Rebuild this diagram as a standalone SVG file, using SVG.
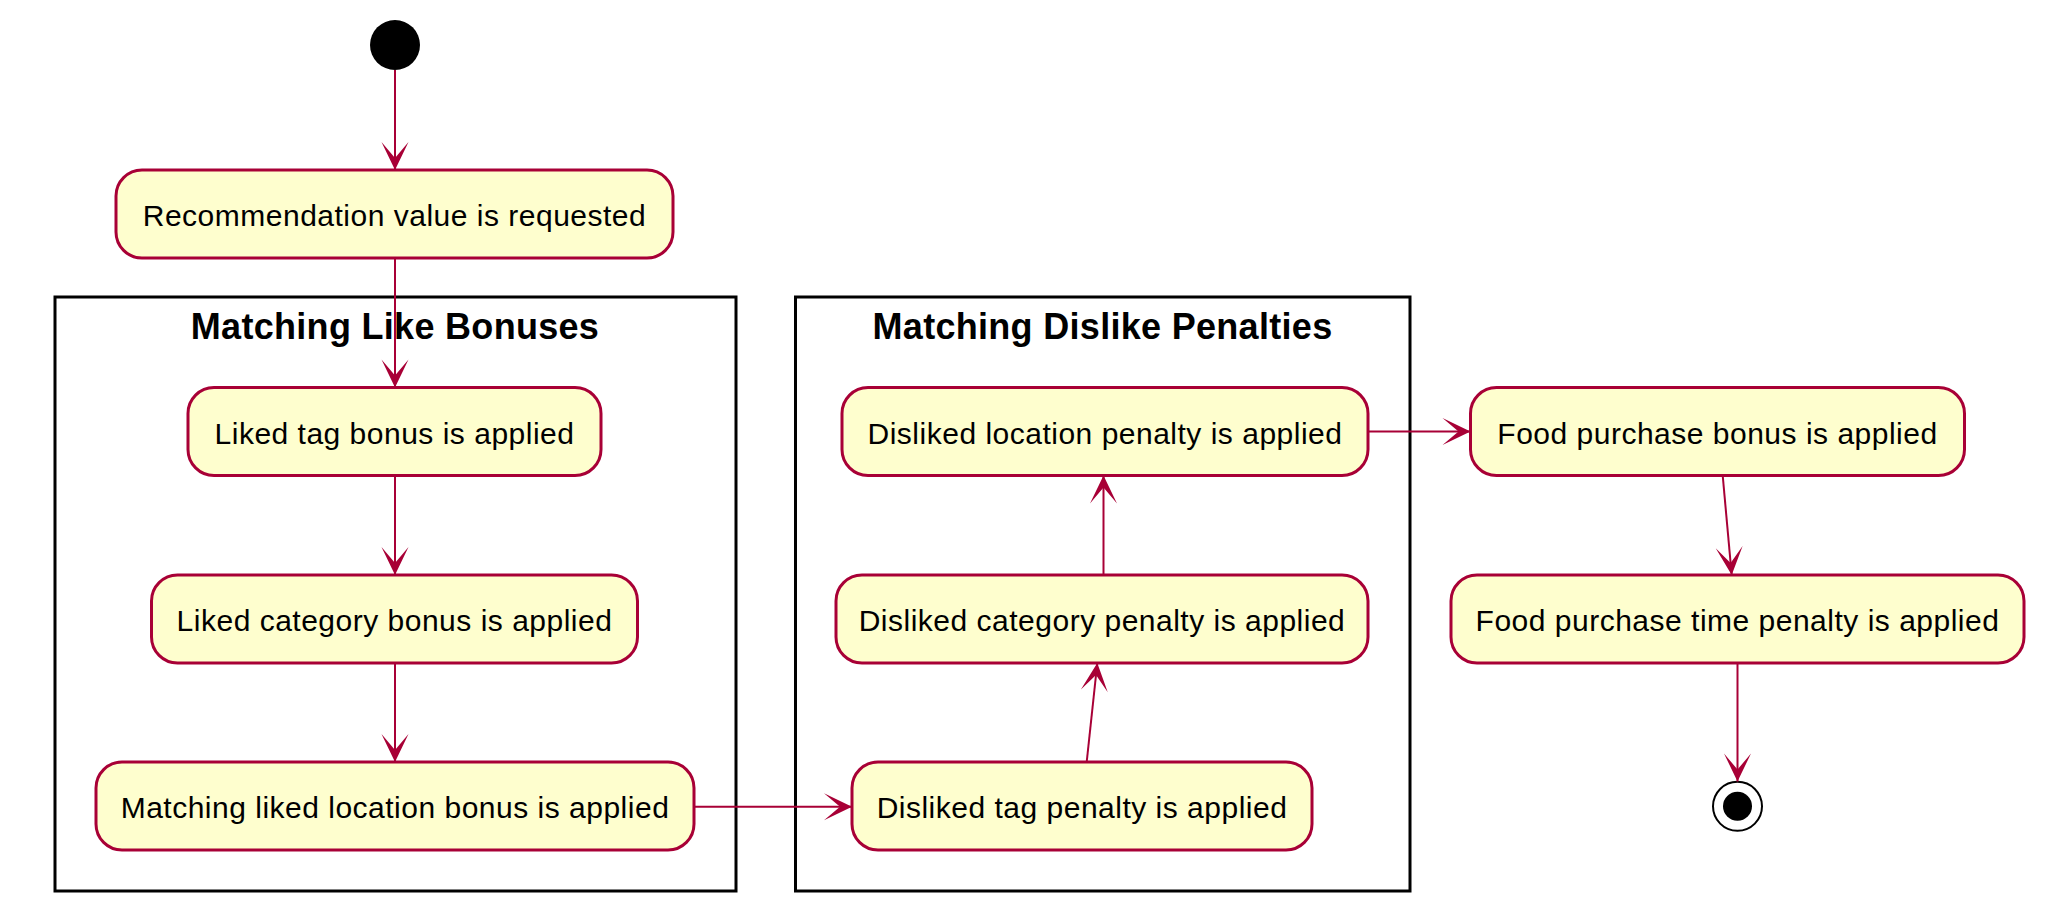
<svg xmlns="http://www.w3.org/2000/svg" width="2048" height="915" viewBox="0 0 2048 915">
<style>
.act{fill:#FEFECE;stroke:#A80036;stroke-width:3}
.lbl{font-family:"Liberation Sans",Arial,sans-serif;font-size:30px;letter-spacing:0.5px;fill:#000;text-anchor:middle}
.part{fill:none;stroke:#000;stroke-width:3}
.ttl{font-family:"Liberation Sans",Arial,sans-serif;font-size:36px;font-weight:bold;letter-spacing:0.3px;fill:#000;text-anchor:middle}
.con{stroke:#A80036;stroke-width:2;fill:none;marker-end:url(#ah)}
</style>
<defs>
<marker id="ah" markerUnits="userSpaceOnUse" viewBox="-30 -15 32 30" refX="0" refY="0" markerWidth="32" markerHeight="30" orient="auto">
<path d="M0,0 L-28,-13.5 L-12,0 L-28,13.5 Z" fill="#A80036"/>
</marker>
</defs>
<rect width="2048" height="915" fill="#FFFFFF"/>
<g id="partition-like">
<rect class="part" x="55" y="297" width="681" height="594"/>
<text class="ttl" x="395" y="339">Matching Like Bonuses</text>
</g>
<g id="partition-dislike">
<rect class="part" x="795.5" y="297" width="614.5" height="594"/>
<text class="ttl" x="1102.5" y="339">Matching Dislike Penalties</text>
</g>
<g id="start"><circle cx="395" cy="45" r="25" fill="#000"/></g>
<g id="rec"><rect class="act" x="116" y="170" width="557" height="88" rx="26" ry="26"/><text class="lbl" x="394.5" y="226">Recommendation value is requested</text></g>
<g id="liked-tag"><rect class="act" x="188" y="387.5" width="413" height="88" rx="26" ry="26"/><text class="lbl" x="394.5" y="443.5">Liked tag bonus is applied</text></g>
<g id="liked-cat"><rect class="act" x="151.5" y="575" width="486" height="88" rx="26" ry="26"/><text class="lbl" x="394.5" y="631">Liked category bonus is applied</text></g>
<g id="liked-loc"><rect class="act" x="96" y="762" width="598" height="88" rx="26" ry="26"/><text class="lbl" x="395" y="818">Matching liked location bonus is applied</text></g>
<g id="dis-loc"><rect class="act" x="842" y="387.5" width="526" height="88" rx="26" ry="26"/><text class="lbl" x="1105" y="443.5">Disliked location penalty is applied</text></g>
<g id="dis-cat"><rect class="act" x="836" y="575" width="532" height="88" rx="26" ry="26"/><text class="lbl" x="1102" y="631">Disliked category penalty is applied</text></g>
<g id="dis-tag"><rect class="act" x="852" y="762" width="460" height="88" rx="26" ry="26"/><text class="lbl" x="1082" y="818">Disliked tag penalty is applied</text></g>
<g id="food-bonus"><rect class="act" x="1470.5" y="387.5" width="494" height="88" rx="26" ry="26"/><text class="lbl" x="1717.5" y="443.5">Food purchase bonus is applied</text></g>
<g id="food-time"><rect class="act" x="1451" y="575" width="573" height="88" rx="26" ry="26"/><text class="lbl" x="1737.5" y="631">Food purchase time penalty is applied</text></g>
<g id="end"><circle cx="1737.5" cy="806.3" r="24.5" fill="#FFF" stroke="#000" stroke-width="2"/><circle cx="1737.5" cy="806.3" r="14.5" fill="#000"/></g>
<g id="connectors">
<line class="con" x1="395" y1="70" x2="395" y2="170"/>
<line class="con" x1="395" y1="258" x2="395" y2="387.5"/>
<line class="con" x1="395" y1="475.5" x2="395" y2="575"/>
<line class="con" x1="395" y1="663" x2="395" y2="762"/>
<line class="con" x1="694" y1="806.7" x2="852" y2="806.7"/>
<line class="con" x1="1086.7" y1="762" x2="1097.3" y2="663"/>
<line class="con" x1="1103.5" y1="575" x2="1103.5" y2="475.5"/>
<line class="con" x1="1368" y1="431.5" x2="1470.5" y2="431.5"/>
<line class="con" x1="1722.7" y1="475.5" x2="1731.7" y2="575"/>
<line class="con" x1="1737.5" y1="663" x2="1737.5" y2="781.5"/>
</g>
</svg>
